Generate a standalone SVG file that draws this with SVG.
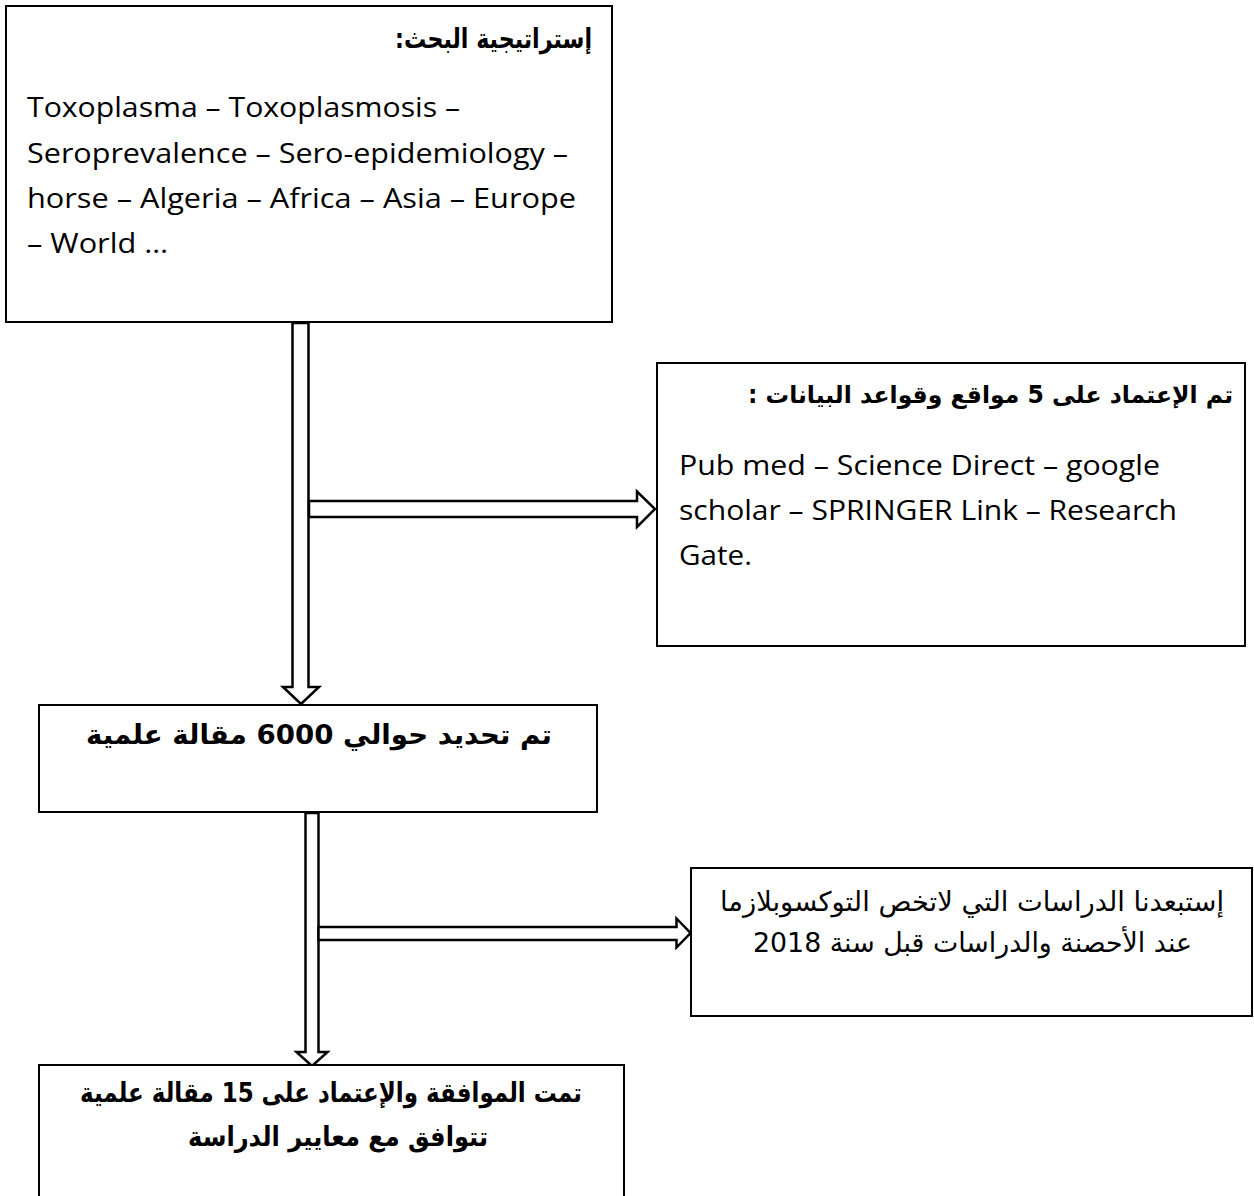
<svg xmlns="http://www.w3.org/2000/svg" width="1254" height="1196" viewBox="0 0 1254 1196">
  <style>
    .box { fill: #ffffff; stroke: #000000; stroke-width: 2; }
    .arrow { fill: #ffffff; stroke: #000000; stroke-width: 2.5; stroke-linejoin: miter; }
    .en { font-family: "Open Sans", "Liberation Sans", sans-serif; font-size: 27px; fill: #000000; }
    .arb { font-family: "DejaVu Sans", "Noto Sans", sans-serif; font-size: 27px; font-weight: bold; fill: #000000; direction: rtl; }
    .ar { font-family: "DejaVu Sans", "Noto Sans", sans-serif; font-size: 27px; fill: #000000; direction: rtl; }
  </style>
  <rect x="0" y="0" width="1254" height="1196" fill="#ffffff"/>

  <g id="connectors">
    <polygon class="arrow" points="292.5,323 308.5,323 308.5,687 319,687 301,704 283,687 292.5,687"/>
    <polygon class="arrow" points="309,501 637,501 637,491.5 655,509 637,527 637,517 309,517"/>
    <polygon class="arrow" points="305.5,813 318.5,813 318.5,1052 327.5,1052 312,1066 296.5,1052 305.5,1052"/>
    <polygon class="arrow" points="318.5,927 676.5,927 676.5,918.5 690.5,933 676.5,947.5 676.5,940 318.5,940"/>
  </g>

  <g id="node-strategy">
    <rect class="box" x="6" y="6" width="606" height="316"/>
    <text class="arb" x="493.5" y="48" text-anchor="middle" textLength="197" lengthAdjust="spacingAndGlyphs">إستراتيجية البحث:</text>
    <text class="en" x="27" y="117" textLength="433" lengthAdjust="spacingAndGlyphs">Toxoplasma – Toxoplasmosis –</text>
    <text class="en" x="27" y="163" textLength="541" lengthAdjust="spacingAndGlyphs">Seroprevalence – Sero-epidemiology –</text>
    <text class="en" x="27" y="208" textLength="549" lengthAdjust="spacingAndGlyphs">horse – Algeria – Africa – Asia – Europe</text>
    <text class="en" x="27" y="253" textLength="141" lengthAdjust="spacingAndGlyphs">– World …</text>
  </g>

  <g id="node-databases">
    <rect class="box" x="657" y="363" width="588" height="283"/>
    <text class="arb" x="990.5" y="403" text-anchor="middle" style="font-size:24px" textLength="485" lengthAdjust="spacingAndGlyphs">تم الإعتماد على 5 مواقع وقواعد البيانات :</text>
    <text class="en" x="679" y="475" textLength="481" lengthAdjust="spacingAndGlyphs">Pub med – Science Direct – google</text>
    <text class="en" x="679" y="520" textLength="498" lengthAdjust="spacingAndGlyphs">scholar – SPRINGER Link – Research</text>
    <text class="en" x="679" y="565" textLength="73" lengthAdjust="spacingAndGlyphs">Gate.</text>
  </g>

  <g id="node-identified">
    <rect class="box" x="39" y="705" width="558" height="107"/>
    <text class="arb" x="319" y="744" text-anchor="middle" textLength="466" lengthAdjust="spacingAndGlyphs">تم تحديد حوالي 6000 مقالة علمية</text>
  </g>

  <g id="node-excluded">
    <rect class="box" x="691" y="868" width="561" height="148"/>
    <text class="ar" x="972" y="911" text-anchor="middle" textLength="504" lengthAdjust="spacingAndGlyphs">إستبعدنا الدراسات التي لاتخص التوكسوبلازما</text>
    <text class="ar" x="972.5" y="952" text-anchor="middle" textLength="439" lengthAdjust="spacingAndGlyphs">عند الأحصنة والدراسات قبل سنة 2018</text>
  </g>

  <g id="node-included">
    <rect class="box" x="39" y="1065" width="585" height="140"/>
    <text class="arb" x="331" y="1102" text-anchor="middle" textLength="502" lengthAdjust="spacingAndGlyphs">تمت الموافقة والإعتماد على 15 مقالة علمية</text>
    <text class="arb" x="338" y="1146" text-anchor="middle" textLength="300" lengthAdjust="spacingAndGlyphs">تتوافق مع معايير الدراسة</text>
  </g>
</svg>
